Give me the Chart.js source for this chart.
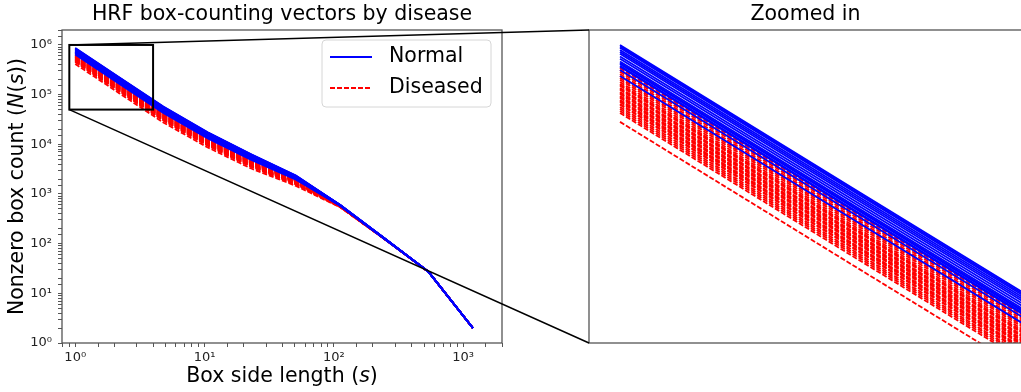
<!DOCTYPE html>
<html>
<head>
<meta charset="utf-8">
<script src="https://cdn.jsdelivr.net/npm/chart.js@4.4.0/dist/chart.umd.min.js"></script>
<style>
  html, body { margin: 0; padding: 0; background: #fff; overflow: hidden; }
  #wrap { position: relative; width: 1021px; height: 392px; overflow: hidden; }
  #mainChart { position: absolute; left: 0; top: 0; }
  #zoomChart { position: absolute; left: 584px; top: 0; }
  #overlay { position: absolute; left: 0; top: 0; pointer-events: none; }
</style>
</head>
<body>
<div id="wrap">
  <canvas id="mainChart" width="515" height="392"></canvas>
  <canvas id="zoomChart" width="444" height="392"></canvas>
  <canvas id="overlay" width="1021" height="392"></canvas>
</div>
<script>
// box side lengths (s)
var boxSizes = [1, 2.2, 4.8, 10.6, 23, 51, 112, 246, 541, 1190];

// nonzero box counts N(s), one row per image
var normalCounts = [
  [867000, 221000, 57500, 17400, 6310, 2344, 603, 129, 27, 2],
  [855000, 218000, 56700, 17170, 6230, 2323, 602, 129, 27, 2],
  [843000, 215000, 55900, 16950, 6155, 2302, 600, 129, 27, 2],
  [826000, 210600, 54800, 16620, 6041, 2272, 599, 129, 27, 2],
  [811000, 206700, 53800, 16330, 5942, 2244, 597, 128, 27, 2],
  [796000, 202900, 52800, 16050, 5844, 2218, 595, 128, 27, 2],
  [776000, 197900, 51500, 15670, 5712, 2181, 593, 128, 27, 2],
  [759000, 193400, 50300, 15330, 5595, 2149, 591, 127, 27, 2],
  [740000, 188500, 49100, 14960, 5469, 2114, 589, 127, 27, 2],
  [729000, 186000, 48400, 14770, 5401, 2095, 588, 127, 27, 2],
  [723000, 184200, 47900, 14640, 5357, 2083, 587, 127, 27, 2],
  [710000, 180900, 47100, 14380, 5269, 2058, 585, 126, 27, 2],
  [703000, 179200, 46600, 14260, 5225, 2046, 584, 126, 27, 2],
  [682000, 173900, 45300, 13860, 5087, 2006, 582, 126, 27, 2],
  [644000, 164200, 42700, 13120, 4830, 1932, 577, 125, 27, 2]
];

var diseasedCounts = [
  [695000, 177200, 46100, 14100, 5172, 2030, 583, 128, 27, 2],
  [682000, 173900, 45300, 13860, 5087, 2006, 582, 126, 27, 2],
  [670000, 170800, 44400, 13620, 5004, 1982, 580, 127, 27, 2],
  [656000, 167300, 43500, 13350, 4912, 1955, 578, 127, 27, 2],
  [644000, 164200, 42700, 13120, 4830, 1932, 577, 125, 27, 2],
  [632000, 161200, 41900, 12890, 4751, 1909, 575, 127, 27, 2],
  [621000, 158300, 41200, 12670, 4673, 1886, 574, 127, 27, 2],
  [608000, 155000, 40300, 12420, 4586, 1862, 572, 127, 27, 2],
  [597000, 152200, 39600, 12210, 4510, 1840, 570, 127, 27, 2],
  [592000, 150800, 39200, 12100, 4473, 1829, 569, 127, 27, 2],
  [586000, 149400, 38900, 12000, 4437, 1818, 569, 126, 27, 2],
  [574000, 146300, 38100, 11760, 4355, 1793, 567, 126, 27, 2],
  [569000, 145000, 37700, 11660, 4319, 1783, 566, 126, 27, 2],
  [564000, 143700, 37400, 11560, 4283, 1772, 565, 126, 27, 2],
  [553000, 141100, 36700, 11360, 4213, 1751, 564, 126, 27, 2],
  [547000, 139500, 36300, 11240, 4169, 1738, 563, 126, 27, 2],
  [542000, 138200, 35900, 11140, 4134, 1727, 562, 126, 27, 2],
  [532000, 135600, 35300, 10940, 4066, 1707, 560, 126, 27, 2],
  [527000, 134400, 35000, 10850, 4033, 1697, 560, 126, 27, 2],
  [522000, 133200, 34600, 10750, 4000, 1686, 559, 126, 27, 2],
  [512000, 130400, 33900, 10540, 3926, 1664, 557, 126, 27, 2],
  [507000, 129200, 33600, 10450, 3893, 1654, 556, 126, 27, 2],
  [502000, 128000, 33300, 10360, 3861, 1644, 556, 126, 27, 2],
  [493000, 125700, 32700, 10180, 3797, 1625, 554, 125, 27, 2],
  [489000, 124600, 32400, 10090, 3766, 1615, 553, 125, 27, 2],
  [479000, 122000, 31700, 9890, 3696, 1593, 552, 125, 27, 2],
  [470000, 119800, 31200, 9720, 3635, 1574, 550, 125, 27, 2],
  [461000, 117600, 30600, 9550, 3575, 1555, 549, 125, 27, 2],
  [452000, 115200, 30000, 9370, 3510, 1534, 547, 125, 27, 2],
  [415000, 105800, 27500, 8640, 3251, 1452, 540, 124, 27, 2]
];

var seriesNames = ['Normal', 'Diseased'];
var mainXRange = [0.79, 2000];
var mainYRange = [1, 2e6];
var zoomX = [0.9, 4];
var zoomY = [5e4, 1e6];

var fontName = '"DejaVu Sans", sans-serif';
var frameColor = '#555';
Chart.defaults.font.family = fontName;

var sup = {'-': '⁻', '0': '⁰', '1': '¹', '2': '²', '3': '³', '4': '⁴', '5': '⁵', '6': '⁶', '7': '⁷', '8': '⁸', '9': '⁹'};
function powerLabel(v) {
	var e = Math.log10(v);
	if (Math.abs(e - Math.round(e)) > 1e-9) return '';
	return '10' + String(Math.round(e)).split('').map(function(c) { return sup[c]; }).join('');
}

function makeSets(width) {
	var sets = [];
	// blue first so it is painted on top
	normalCounts.forEach(function(row) {
		sets.push({
			data: boxSizes.map(function(s, i) { return {x: s, y: row[i]}; }),
			borderColor: '#0000ff', borderWidth: width, pointRadius: 0, tension: 0, fill: false
		});
	});
	diseasedCounts.forEach(function(row) {
		sets.push({
			data: boxSizes.map(function(s, i) { return {x: s, y: row[i]}; }),
			borderColor: '#ff0000', borderWidth: width, borderDash: [5, 2], pointRadius: 0, tension: 0, fill: false
		});
	});
	return sets;
}

// text with some italic pieces, centred on x,y
function richText(ctx, parts, x, y, size) {
	var total = 0;
	parts.forEach(function(p) {
		ctx.font = (p[1] ? 'italic ' : '') + size + 'px ' + fontName;
		total += ctx.measureText(p[0]).width;
	});
	var cx = x - total / 2;
	ctx.textAlign = 'left';
	ctx.textBaseline = 'middle';
	ctx.fillStyle = '#000';
	parts.forEach(function(p) {
		ctx.font = (p[1] ? 'italic ' : '') + size + 'px ' + fontName;
		ctx.fillText(p[0], cx, y);
		cx += ctx.measureText(p[0]).width;
	});
}

function drawFrame(ctx, a) {
	ctx.save();
	ctx.strokeStyle = frameColor;
	ctx.lineWidth = 1.3;
	ctx.strokeRect(a.left, a.top, a.right - a.left, a.bottom - a.top);
	ctx.restore();
}

var mainDecor = {
	id: 'mainDecor',
	afterDraw: function(chart) {
		var ctx = chart.ctx, a = chart.chartArea;
		var xs = chart.scales.x, ys = chart.scales.y;
		var cx = (a.left + a.right) / 2, cy = (a.top + a.bottom) / 2;
		drawFrame(ctx, a);
		ctx.save();
		richText(ctx, [['HRF box-counting vectors by disease', false]], cx, 15, 20.5);
		richText(ctx, [['Box side length (', false], ['s', true], [')', false]], cx, 377, 20.5);
		ctx.translate(18, cy);
		ctx.rotate(-Math.PI / 2);
		richText(ctx, [['Nonzero box count (', false], ['N', true], ['(', false], ['s', true], ['))', false]], 0, 0, 20.5);
		ctx.restore();

		// inset rectangle
		ctx.save();
		var x0 = xs.getPixelForValue(zoomX[0]), x1 = xs.getPixelForValue(zoomX[1]);
		var y0 = ys.getPixelForValue(zoomY[1]), y1 = ys.getPixelForValue(zoomY[0]);
		ctx.strokeStyle = '#000';
		ctx.lineWidth = 2;
		ctx.strokeRect(x0, y0, x1 - x0, y1 - y0);
		ctx.restore();

		// legend
		ctx.save();
		var bw = 169, bh = 67, br = a.right - 11, bt = a.top + 10, bl = br - bw;
		ctx.beginPath();
		ctx.roundRect(bl, bt, bw, bh, 4);
		ctx.fillStyle = 'rgba(255,255,255,0.8)';
		ctx.fill();
		ctx.strokeStyle = '#d6d6d6';
		ctx.lineWidth = 1;
		ctx.stroke();
		var rows = [[bt + 17, '#0000ff', []], [bt + 48, '#ff0000', [5, 2]]];
		rows.forEach(function(r, i) {
			ctx.beginPath();
			ctx.setLineDash(r[2]);
			ctx.strokeStyle = r[1];
			ctx.lineWidth = 1.8;
			ctx.moveTo(bl + 8, r[0]);
			ctx.lineTo(bl + 50, r[0]);
			ctx.stroke();
			ctx.setLineDash([]);
			ctx.font = '20.5px ' + fontName;
			ctx.fillStyle = '#000';
			ctx.textAlign = 'left';
			ctx.textBaseline = 'middle';
			ctx.fillText(seriesNames[i], bl + 67, r[0]);
		});
		ctx.restore();
	}
};

var zoomDecor = {
	id: 'zoomDecor',
	afterDraw: function(chart) {
		var ctx = chart.ctx, a = chart.chartArea;
		drawFrame(ctx, a);
		ctx.save();
		richText(ctx, [['Zoomed in', false]], (a.left + a.right) / 2 - 3, 15, 20.5);
		ctx.restore();
	}
};

var tickFont = {size: 13};
var mainChart = new Chart(document.getElementById('mainChart'), {
	type: 'line',
	data: {datasets: makeSets(1.8)},
	options: {
		responsive: false,
		animation: false,
		events: [],
		layout: {padding: {top: 30, right: 13, left: 0, bottom: 0}},
		plugins: {legend: {display: false}, tooltip: {enabled: false}},
		scales: {
			x: {
				type: 'logarithmic', min: mainXRange[0], max: mainXRange[1],
				border: {display: false},
				grid: {drawOnChartArea: false, drawTicks: true, tickLength: 4, color: frameColor},
				ticks: {autoSkip: false, maxRotation: 0, padding: 3, color: '#222', font: tickFont, callback: function(v) { return powerLabel(v); }},
				afterFit: function(s) { s.height = 49; }
			},
			y: {
				type: 'logarithmic', min: mainYRange[0], max: mainYRange[1],
				border: {display: false},
				grid: {drawOnChartArea: false, drawTicks: true, tickLength: 4, color: frameColor},
				ticks: {autoSkip: false, padding: 6, color: '#222', font: tickFont, callback: function(v) { return powerLabel(v); }},
				afterFit: function(s) { s.width = 62; }
			}
		}
	},
	plugins: [mainDecor]
});

var zoomChart = new Chart(document.getElementById('zoomChart'), {
	type: 'line',
	data: {datasets: makeSets(1.8)},
	options: {
		responsive: false,
		animation: false,
		events: [],
		layout: {padding: {top: 30, right: 0, left: 5, bottom: 49}},
		plugins: {legend: {display: false}, tooltip: {enabled: false}},
		scales: {
			x: {type: 'logarithmic', min: zoomX[0], max: zoomX[1], display: false},
			y: {type: 'logarithmic', min: zoomY[0], max: zoomY[1], display: false}
		}
	},
	plugins: [zoomDecor]
});

// connector lines from the inset box to the zoomed panel
function drawConnectors() {
	var ov = document.getElementById('overlay').getContext('2d');
	var zc = document.getElementById('zoomChart');
	var xs = mainChart.scales.x, ys = mainChart.scales.y;
	var za = zoomChart.chartArea;
	var rx = xs.getPixelForValue(zoomX[0]);
	var rTop = ys.getPixelForValue(zoomY[1]), rBot = ys.getPixelForValue(zoomY[0]);
	var zl = zc.offsetLeft + za.left;
	ov.clearRect(0, 0, 1021, 392);
	ov.strokeStyle = '#000';
	ov.lineWidth = 1.5;
	ov.beginPath();
	ov.moveTo(rx, rTop);
	ov.lineTo(zl, za.top);
	ov.moveTo(rx, rBot);
	ov.lineTo(zl, za.bottom);
	ov.stroke();
}
drawConnectors();
</script>
</body>
</html>
